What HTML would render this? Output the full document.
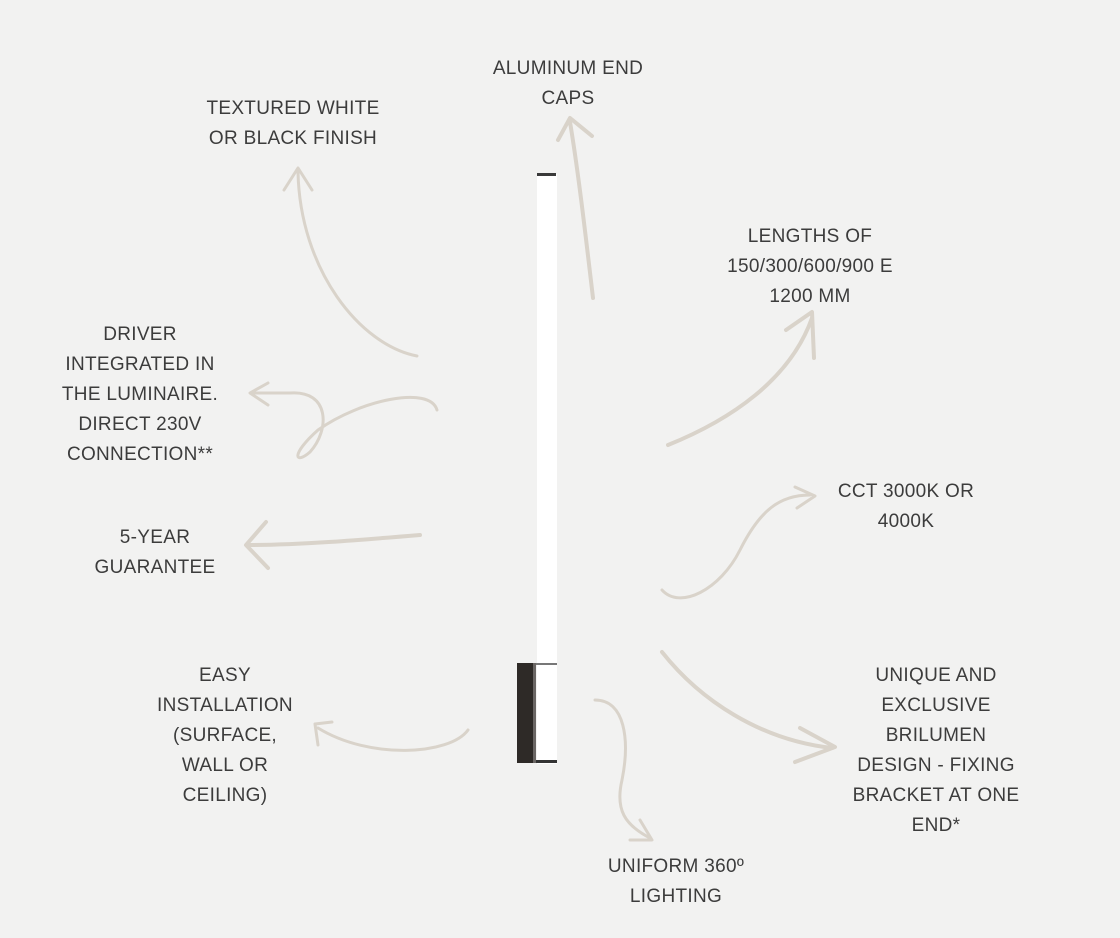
<!DOCTYPE html>
<html><head><meta charset="utf-8"><style>
html,body{margin:0;padding:0;background:#f2f2f1;}
#w{position:relative;width:1120px;height:938px;overflow:hidden;background:#f2f2f1;}
.t{position:absolute;font-family:"Liberation Sans",sans-serif;font-size:19px;line-height:30px;color:#3c3c3c;text-align:center;letter-spacing:0.3px;white-space:nowrap;}
svg{position:absolute;left:0;top:0;}
</style></head><body><div id="w">
<svg width="1120" height="938" viewBox="0 0 1120 938">
<g fill="none" stroke="#d9d3ca" stroke-linecap="round" stroke-linejoin="round">
<path d="M417 356 C360 345 300 270 298 172" stroke-width="3"/>
<path d="M284 190 L298 168 L312 190" stroke-width="3"/>
<path d="M593 298 C585 230 578 170 570 122" stroke-width="4"/>
<path d="M558 140 L570 118 L592 136" stroke-width="4"/>
<path d="M668 445 C730 420 790 380 812 318" stroke-width="4"/>
<path d="M786 330 L812 312 L814 358" stroke-width="4"/>
<path d="M437 410 C430 385 360 400 318 430 C290 455 295 465 310 452 C330 430 330 390 290 393 L252 393" stroke-width="3"/>
<path d="M268 383 L250 393 L268 405" stroke-width="3"/>
<path d="M420 535 C360 540 300 545 248 545" stroke-width="4"/>
<path d="M266 522 L246 545 L268 568" stroke-width="4"/>
<path d="M662 590 C680 610 720 590 740 550 C760 510 780 495 810 495" stroke-width="3"/>
<path d="M795 487 L815 496 L797 508" stroke-width="3"/>
<path d="M468 730 C450 755 370 760 318 728" stroke-width="3"/>
<path d="M318 745 L315 724 L332 722" stroke-width="3"/>
<path d="M595 700 C625 700 630 740 622 780 C615 810 625 825 650 838" stroke-width="3"/>
<path d="M640 820 L652 840 L630 840" stroke-width="3"/>
<path d="M662 652 C700 700 760 740 832 748" stroke-width="4"/>
<path d="M800 728 L835 747 L795 762" stroke-width="4"/>
</g>
<rect x="537" y="174" width="20" height="590" fill="#ffffff"/>
<rect x="537" y="173" width="19" height="3" fill="#3a3a3a"/>
<rect x="517" y="663" width="16" height="100" fill="#2e2a27"/>
<rect x="533" y="663" width="3" height="100" fill="#6a6664"/>
<rect x="536" y="663" width="21" height="2" fill="#777"/>
<rect x="536" y="760" width="21" height="3" fill="#333"/>
</svg>
<div class="t" style="left:468px;top:54px;width:200px">ALUMINUM END<br>CAPS</div>
<div class="t" style="left:183px;top:94px;width:220px">TEXTURED WHITE<br>OR BLACK FINISH</div>
<div class="t" style="left:720px;top:222px;width:180px">LENGTHS OF<br>150/300/600/900 E<br>1200 MM</div>
<div class="t" style="left:40px;top:320px;width:200px">DRIVER<br>INTEGRATED IN<br>THE LUMINAIRE.<br>DIRECT 230V<br>CONNECTION**</div>
<div class="t" style="left:70px;top:523px;width:170px">5-YEAR<br>GUARANTEE</div>
<div class="t" style="left:816px;top:477px;width:180px">CCT 3000K OR<br>4000K</div>
<div class="t" style="left:130px;top:661px;width:190px">EASY<br>INSTALLATION<br>(SURFACE,<br>WALL OR<br>CEILING)</div>
<div class="t" style="left:836px;top:661px;width:200px">UNIQUE AND<br>EXCLUSIVE<br>BRILUMEN<br>DESIGN - FIXING<br>BRACKET AT ONE<br>END*</div>
<div class="t" style="left:586px;top:852px;width:180px">UNIFORM 360º<br>LIGHTING</div>
</div></body></html>
